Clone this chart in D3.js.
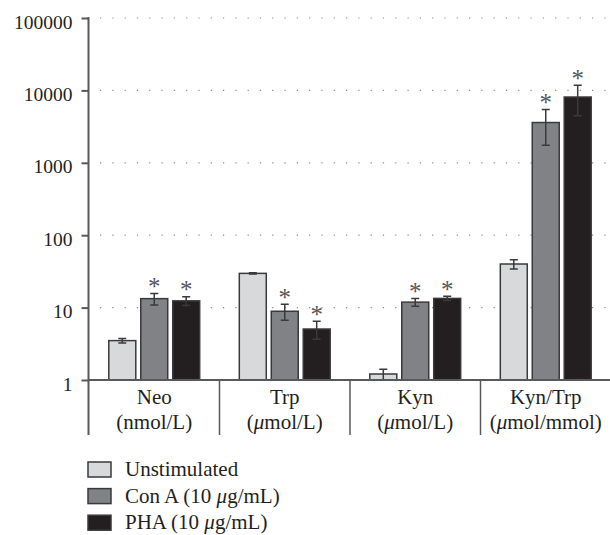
<!DOCTYPE html>
<html lang="en">
    <head>
        <meta charset="utf-8">
        <title>Neo Trp Kyn</title>
        <script src="https://cdn.jsdelivr.net/npm/d3@7"></script>
        <style type="text/css">
        body {
            margin: 0;
            background-color: white;
        }
        svg text {
            font-family: "Liberation Serif", "DejaVu Serif", serif;
            fill: #231f20;
        }
        </style>
    </head>
    <body>
        <script>
        var width = 610,
            height = 535;

        // data (mean and error)
        var categories = ["Neo", "Trp", "Kyn", "Kyn/Trp"];
        var units = ["(nmol/L)", "(\u03bcmol/L)", "(\u03bcmol/L)", "(\u03bcmol/mmol)"];
        var series = ["Unstimulated", "Con A (10 \u03bcg/mL)", "PHA (10 \u03bcg/mL)"];
        var unstimulated = [3.5, 29.7, 1.21, 40];
        var unstimulatedErr = [0.25, 0.6, 0.2, 5.8];
        var conA = [13.3, 8.9, 11.9, 3600];
        var conAErr = [2.4, 2.2, 1.5, 1850];
        var pha = [12.4, 5.06, 13.4, 8100];
        var phaErr = [1.7, 1.4, 0.9, 3650];
        var significant = [false, true, true];
        var tickValues = [1, 10, 100, 1000, 10000, 100000];
        var colors = ["#d8d9db", "#808285", "#231f20"];

        var means = [unstimulated, conA, pha];
        var errs = [unstimulatedErr, conAErr, phaErr];

        var rows = [];
        categories.forEach(function(c, i) {
            series.forEach(function(s, j) {
                rows.push({cat: c, s: j, value: means[j][i], err: errs[j][i]});
            });
        });

        // writes a string into a text/tspan, putting the mu in italics
        function muText(sel, str) {
            str.split(/(\u03bc)/).forEach(function(part) {
                if (!part) return;
                var t = sel.append("tspan").text(part);
                if (part === "\u03bc") t.style("font-style", "italic");
            });
        }

        var svg = d3.select("body").append("svg")
            .attr("width", width)
            .attr("height", height);

        var x0 = d3.scaleBand().domain(categories).range([89, 611]);
        var x1 = d3.scaleBand().domain(d3.range(series.length))
            .range([0, x0.bandwidth()])
            .paddingInner(0.156)
            .paddingOuter(0.62);
        var y = d3.scaleLog().domain([1, 100000]).range([380, 18]);

        // dotted grid
        svg.append("g").selectAll("line")
            .data(tickValues.slice(1))
            .enter().append("line")
            .attr("x1", 100).attr("x2", 610)
            .attr("y1", function(d) { return y(d); })
            .attr("y2", function(d) { return y(d); })
            .attr("stroke", "#8a8a8a")
            .attr("stroke-width", 1.2)
            .attr("stroke-dasharray", "1.2 11.1");

        // bars
        var bars = svg.append("g").selectAll("g")
            .data(rows)
            .enter().append("g")
            .attr("transform", function(d) { return "translate(" + (x0(d.cat) + x1(d.s)) + ",0)"; });

        bars.append("rect")
            .attr("x", 0)
            .attr("y", function(d) { return y(d.value); })
            .attr("width", x1.bandwidth())
            .attr("height", function(d) { return y(1) - y(d.value); })
            .attr("fill", function(d) { return colors[d.s]; })
            .attr("stroke", "#3a3a3c")
            .attr("stroke-width", 1.5);

        var bw = x1.bandwidth() / 2;
        bars.append("path")
            .attr("d", function(d) {
                var t = y(d.value + d.err), b = y(Math.max(1, d.value - d.err));
                return "M" + (bw - 4) + "," + t + "H" + (bw + 4) +
                    "M" + bw + "," + t + "V" + b +
                    "M" + (bw - 4) + "," + b + "H" + (bw + 4);
            })
            .attr("fill", "none")
            .attr("stroke", "#3a3a3c")
            .attr("stroke-width", 1.5);

        bars.filter(function(d) { return significant[d.s]; })
            .append("text")
            .attr("x", bw)
            .attr("y", function(d) { return y(d.value + d.err) + 1.5; })
            .attr("text-anchor", "middle")
            .style("font-size", "25px")
            .style("fill", "#555557")
            .text("*");

        // y axis
        var yAxis = d3.axisLeft(y)
            .tickValues(tickValues)
            .tickFormat(d3.format("d"))
            .tickSize(7)
            .tickPadding(9)
            .tickSizeOuter(0);

        var ag = svg.append("g")
            .attr("transform", "translate(88.5,0)")
            .call(yAxis);
        ag.select(".domain").remove();
        ag.selectAll(".tick line").attr("stroke", "#58595b").attr("stroke-width", 2);
        ag.selectAll(".tick text")
            .attr("dy", "0.52em")
            .style("font-size", "19.5px")
            .style("font-family", "\"Liberation Serif\", serif");

        svg.append("line")
            .attr("x1", 88.5).attr("x2", 88.5)
            .attr("y1", 17).attr("y2", 435)
            .attr("stroke", "#58595b").attr("stroke-width", 2);

        svg.append("line")
            .attr("x1", 88.5).attr("x2", 610)
            .attr("y1", y(1)).attr("y2", y(1))
            .attr("stroke", "#58595b").attr("stroke-width", 2);

        // category dividers and labels
        svg.append("g").selectAll("line")
            .data(categories.slice(1))
            .enter().append("line")
            .attr("x1", function(d) { return x0(d); })
            .attr("x2", function(d) { return x0(d); })
            .attr("y1", y(1)).attr("y2", 435)
            .attr("stroke", "#58595b").attr("stroke-width", 1.5);

        var catLabels = svg.append("g").selectAll("g")
            .data(categories)
            .enter().append("g");
        catLabels.append("text")
            .attr("x", function(d) { return x0(d) + x0.bandwidth() / 2; })
            .attr("y", 404)
            .attr("text-anchor", "middle")
            .style("font-size", "21px")
            .text(function(d) { return d; });
        catLabels.append("text")
            .attr("x", function(d) { return x0(d) + x0.bandwidth() / 2; })
            .attr("y", 429)
            .attr("text-anchor", "middle")
            .style("font-size", "21px")
            .each(function(d, i) { muText(d3.select(this), units[i]); });

        // legend
        var legend = svg.append("g").selectAll("g")
            .data(series)
            .enter().append("g")
            .attr("transform", function(d, i) { return "translate(88," + (462 + i * 26.6) + ")"; });
        legend.append("rect")
            .attr("width", 23)
            .attr("height", 15)
            .attr("fill", function(d, i) { return colors[i]; })
            .attr("stroke", "#3a3a3c")
            .attr("stroke-width", 1.5);
        legend.append("text")
            .attr("x", 37)
            .attr("y", 14)
            .style("font-size", "21px")
            .each(function(d) { muText(d3.select(this), d); });
        </script>
    </body>
</html>
